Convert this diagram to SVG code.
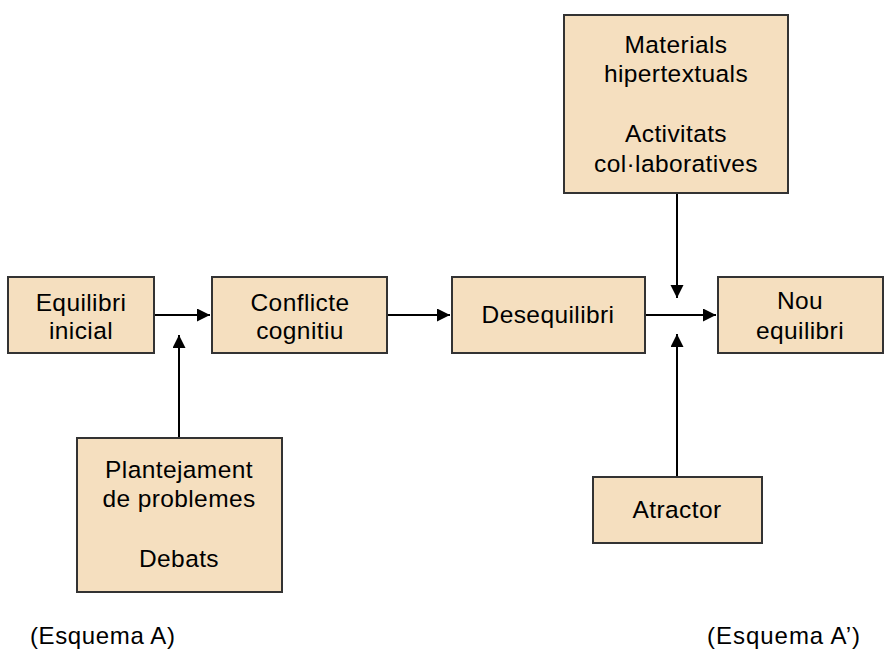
<svg xmlns="http://www.w3.org/2000/svg" width="886" height="651" viewBox="0 0 886 651">
<style>
.box{fill:#F5DFBF;stroke:#333333;stroke-width:2}
.t{font-family:"Liberation Sans",Arial,sans-serif;font-size:24.5px;letter-spacing:0.4px;fill:#000;text-anchor:middle}
.cap{font-family:"Liberation Sans",Arial,sans-serif;font-size:24px;fill:#000}
.line{stroke:#000;stroke-width:2;fill:none}
</style>
<defs>
<marker id="ah" markerWidth="14" markerHeight="14" refX="13" refY="6.5" orient="auto" markerUnits="userSpaceOnUse">
<path d="M0,0 L13,6.5 L0,13 Z" fill="#000"/>
</marker>
</defs>
<rect width="886" height="651" fill="#fff"/>
<g id="connectors">
<line class="line" x1="154" y1="315" x2="210" y2="315" marker-end="url(#ah)"/>
<line class="line" x1="387" y1="315" x2="450" y2="315" marker-end="url(#ah)"/>
<line class="line" x1="645" y1="315" x2="716" y2="315" marker-end="url(#ah)"/>
<line class="line" x1="179" y1="438" x2="179" y2="335" marker-end="url(#ah)"/>
<line class="line" x1="677" y1="193" x2="677" y2="298" marker-end="url(#ah)"/>
<line class="line" x1="677" y1="477" x2="677" y2="334" marker-end="url(#ah)"/>
</g>
<g id="equilibri-inicial">
<rect class="box" x="8" y="277" width="146" height="76"/>
<text class="t" x="81" y="311">Equilibri</text>
<text class="t" x="81" y="339">inicial</text>
</g>
<g id="conflicte-cognitiu">
<rect class="box" x="212" y="277" width="175" height="76"/>
<text class="t" x="300" y="311">Conflicte</text>
<text class="t" x="300" y="339">cognitiu</text>
</g>
<g id="desequilibri">
<rect class="box" x="452" y="277" width="193" height="76"/>
<text class="t" x="548" y="323">Desequilibri</text>
</g>
<g id="nou-equilibri">
<rect class="box" x="718" y="277" width="165" height="76"/>
<text class="t" x="800" y="309">Nou</text>
<text class="t" x="800" y="339">equilibri</text>
</g>
<g id="materials">
<rect class="box" x="564" y="15" width="224" height="178"/>
<text class="t" x="676" y="53">Materials</text>
<text class="t" x="676" y="82">hipertextuals</text>
<text class="t" x="676" y="142">Activitats</text>
<text class="t" x="676" y="172">col·laboratives</text>
</g>
<g id="plantejament">
<rect class="box" x="77" y="438" width="205" height="154"/>
<text class="t" x="179" y="478">Plantejament</text>
<text class="t" x="179" y="507">de problemes</text>
<text class="t" x="179" y="567">Debats</text>
</g>
<g id="atractor">
<rect class="box" x="593" y="477" width="169" height="66"/>
<text class="t" x="677" y="518">Atractor</text>
</g>
<text class="cap" x="30" y="644" textLength="145" lengthAdjust="spacing">(Esquema A)</text>
<text class="cap" x="707" y="644" textLength="153" lengthAdjust="spacing">(Esquema A’)</text>
</svg>
